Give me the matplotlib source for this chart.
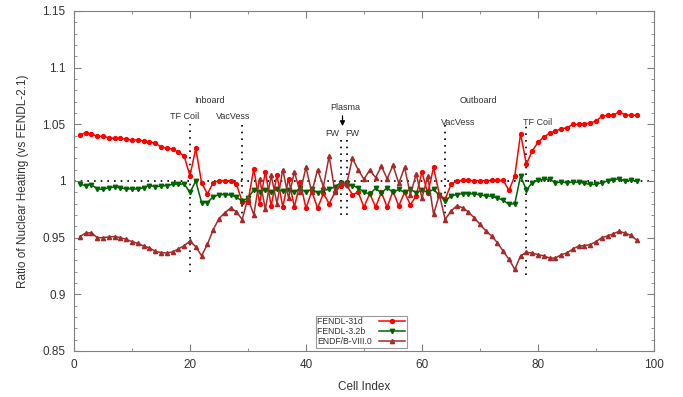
import numpy as np
import matplotlib
matplotlib.use('Agg')
from matplotlib import pyplot as plt

plt.rcParams['font.family'] = ['Liberation Sans', 'DejaVu Sans']

# cell index 1..97
cells = np.arange(1, 98)

fendl31d = [1.0406, 1.0426, 1.0415, 1.0394, 1.0394, 1.0382, 1.0376, 1.0376, 1.0368, 1.0362,
            1.0362, 1.0353, 1.0345, 1.0335, 1.0300, 1.0290, 1.0280, 1.0255, 1.0220, 1.0045,
            1.0288, 0.9985, 0.9885, 0.9985, 1.0003, 1.0003, 1.0000, 0.9975, 0.9817, 0.9817,
            1.0110, 0.9800, 1.0080, 0.9780, 1.0050, 0.9770, 1.0020, 0.9770, 0.9990, 0.9760,
            0.9910, 0.9760, 0.9890, 0.9800, 0.9900, 0.9960, 0.9965, 0.9880, 0.9900, 0.9770,
            0.9890, 0.9770, 0.9900, 0.9770, 0.9910, 0.9780, 0.9900, 0.9790, 0.9870, 1.0080,
            0.9890, 1.0120, 0.9880, 0.9840, 0.9970, 1.0003, 1.0005, 1.0005, 1.0003, 1.0003,
            1.0003, 1.0005, 1.0005, 1.0005, 0.9918, 1.0044, 1.0418, 1.0147, 1.0265, 1.0340,
            1.0390, 1.0420, 1.0440, 1.0460, 1.0470, 1.0500, 1.0500, 1.0505, 1.0510, 1.0530,
            1.0570, 1.0580, 1.0580, 1.0610, 1.0585, 1.0580, 1.0580]

fendl32b = [0.9970, 0.9960, 0.9968, 0.9930, 0.9926, 0.9940, 0.9947, 0.9940, 0.9930, 0.9930,
            0.9930, 0.9940, 0.9960, 0.9950, 0.9955, 0.9960, 0.9970, 0.9970, 0.9975, 0.9900,
            1.0000, 0.9810, 0.9810, 0.9860, 0.9880, 0.9880, 0.9876, 0.9860, 0.9820, 0.9850,
            0.9920, 0.9906, 0.9920, 0.9900, 0.9926, 0.9910, 0.9920, 0.9900, 0.9935, 0.9900,
            0.9930, 0.9895, 0.9920, 0.9925, 0.9950, 0.9985, 0.9980, 0.9960, 0.9940, 0.9900,
            0.9885, 0.9935, 0.9897, 0.9940, 0.9900, 0.9926, 0.9900, 0.9926, 0.9897, 0.9918,
            0.9900, 0.9926, 0.9874, 0.9824, 0.9868, 0.9880, 0.9888, 0.9888, 0.9885, 0.9878,
            0.9868, 0.9865, 0.9850, 0.9830, 0.9794, 0.9800, 1.0044, 0.9920, 0.9985, 1.0006,
            1.0015, 1.0015, 0.9985, 0.9990, 0.9985, 0.9990, 0.9990, 0.9980, 0.9970, 0.9970,
            0.9985, 1.0000, 1.0010, 1.0020, 1.0000, 1.0006, 1.0000]

endf80 = [0.9510, 0.9540, 0.9544, 0.9500, 0.9500, 0.9506, 0.9510, 0.9500, 0.9485, 0.9465,
          0.9450, 0.9426, 0.9410, 0.9380, 0.9368, 0.9365, 0.9374, 0.9400, 0.9430, 0.9470,
          0.9420, 0.9340, 0.9440, 0.9570, 0.9668, 0.9720, 0.9760, 0.9730, 0.9660, 0.9850,
          0.9700, 1.0020, 0.9750, 1.0050, 0.9800, 1.0100, 0.9850, 1.0080, 0.9900, 1.0120,
          0.9900, 1.0100, 0.9950, 1.0220, 0.9900, 0.9980, 0.9970, 1.0200, 1.0100, 1.0015,
          1.0097, 1.0030, 1.0130, 1.0020, 1.0138, 0.9980, 1.0120, 0.9880, 1.0060, 0.9850,
          1.0040, 0.9706, 0.9880, 0.9660, 0.9735, 0.9780, 0.9765, 0.9726, 0.9676, 0.9618,
          0.9560, 0.9515, 0.9456, 0.9380, 0.9310, 0.9220, 0.9340, 0.9370, 0.9365, 0.9350,
          0.9340, 0.9320, 0.9320, 0.9350, 0.9365, 0.9400, 0.9426, 0.9430, 0.9438, 0.9465,
          0.9500, 0.9515, 0.9535, 0.9556, 0.9540, 0.9520, 0.9480]

labels = ['FENDL-31d', 'FENDL-3.2b', 'ENDF/B-VIII.0']

fig = plt.figure(figsize=(6.83, 3.97), dpi=100)
ax = fig.add_axes([0.1083, 0.1159, 0.8492, 0.8564])

# reference line at ratio 1
ax.plot([0, 100], [1, 1], color='black', linestyle=(0, (1, 3)), linewidth=1.2, zorder=1)

# region boundaries
for x, top, bot in [(20, 1.050, 0.920), (29, 1.050, 0.966), (46, 1.038, 0.970),
                    (47, 1.038, 0.970), (64, 1.049, 0.966), (78, 1.049, 0.917)]:
    ax.plot([x, x], [bot, top], color='black', linestyle=(0, (1, 3)), linewidth=1.2, zorder=1)

# pad labels with spaces so text is left aligned while samples sit on the right
fs_leg = 6.2
r = fig.canvas.get_renderer()
def tw(s):
    t = fig.text(0, 0, s, fontsize=fs_leg)
    w = t.get_window_extent(r).width
    t.remove()
    return w
wmax = max(tw(l) for l in labels)
wsp = (tw('a' + ' ' * 10 + 'a') - tw('aa')) / 10
padded = [l + ' ' * int(round((wmax - tw(l)) / wsp)) for l in labels]

ax.plot(cells, fendl31d, color='#ff0000', marker='o', markersize=2.8, linewidth=1.1, label=padded[0])
ax.plot(cells, fendl32b, color='#006400', marker='v', markersize=3.2, linewidth=1.1, label=padded[1])
ax.plot(cells, endf80, color='#a52a2a', marker='^', markersize=3.0, linewidth=1.1, label=padded[2])

tc = '#333333'
ax.text(19, 1.0565, 'TF Coil', fontsize=6.5, ha='center', va='center', color=tc)
ax.text(27.5, 1.0565, 'VacVess', fontsize=6.5, ha='center', va='center', color=tc)
ax.text(23.3, 1.0706, 'Inboard', fontsize=6.5, ha='center', va='center', color=tc)
ax.text(46.8, 1.0650, 'Plasma', fontsize=6.5, ha='center', va='center', color=tc)
ax.annotate('', xy=(46.3, 1.046), xytext=(46.3, 1.060),
            arrowprops=dict(arrowstyle='-|>', color='black', lw=0.9, mutation_scale=7))
ax.text(44.6, 1.042, 'FW', fontsize=6.5, ha='center', va='center', color=tc)
ax.text(47.9, 1.042, 'FW', fontsize=6.5, ha='center', va='center', color=tc)
ax.text(69.8, 1.0706, 'Outboard', fontsize=6.5, ha='center', va='center', color=tc)
ax.text(66.2, 1.0515, 'VacVess', fontsize=6.5, ha='center', va='center', color=tc)
ax.text(80, 1.0515, 'TF Coil', fontsize=6.5, ha='center', va='center', color=tc)

ax.set_xlim(0, 100)
ax.set_ylim(0.85, 1.15)
ax.set_xticks([0, 20, 40, 60, 80, 100])
ax.set_xticks(np.arange(0, 101, 10), minor=True)
ax.set_yticks([0.85, 0.9, 0.95, 1.0, 1.05, 1.1, 1.15])
ax.set_yticklabels(['0.85', '0.9', '0.95', '1', '1.05', '1.1', '1.15'])
ax.set_yticks(np.arange(0.85, 1.1501, 0.01), minor=True)
ax.tick_params(which='both', direction='in', top=True, right=True, color='#808080', labelcolor=tc, labelsize=8.5)
ax.tick_params(which='major', length=5, pad=6)
ax.tick_params(which='minor', length=2.5)
for s in ax.spines.values():
    s.set_color('#808080')

ax.set_xlabel('Cell Index', fontsize=8.5, color=tc, labelpad=7)
ax.set_ylabel('Ratio of Nuclear Heating (vs FENDL-2.1)', fontsize=8.5, color=tc, labelpad=10)

leg = ax.legend(loc='upper left', bbox_to_anchor=(0.417, 0.103), fontsize=fs_leg, markerfirst=False,
                frameon=True, fancybox=False, borderpad=0.15, labelspacing=0.12, handlelength=3.0,
                handletextpad=0.8, borderaxespad=0)
leg.get_frame().set_edgecolor('#808080')
leg.get_frame().set_linewidth(0.8)
for t in leg.get_texts():
    t.set_color(tc)

fig.savefig('out.png', dpi=100)
